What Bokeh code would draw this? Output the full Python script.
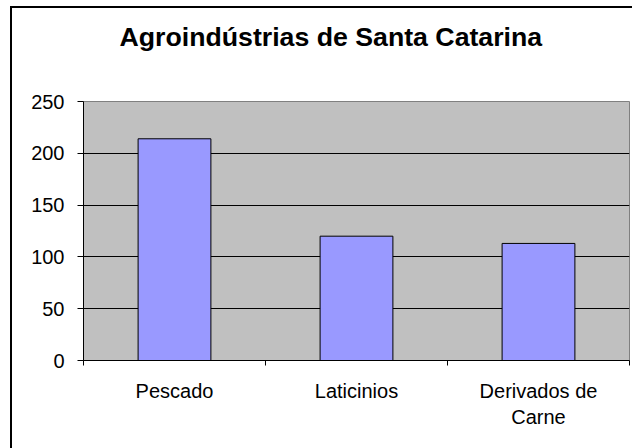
from bokeh.plotting import figure
from bokeh.models import Range1d, FixedTicker, ColumnDataSource, Title
from bokeh.embed import file_html
from bokeh.resources import INLINE

# ---- data ----
title_text = "Agroindústrias de Santa Catarina"
categories = ["Pescado", "Laticinios", "Derivados de\nCarne"]
values = [214, 120, 113]
y_ticks = [0, 50, 100, 150, 200, 250]

xs = [i + 0.5 for i in range(len(categories))]
bounds = [float(i) for i in range(len(categories) + 1)]

src = ColumnDataSource(dict(x=xs, top=values, cat=categories))

W, H = 634, 445
p = figure(width=W, height=H, output_backend="svg", toolbar_location=None,
           x_range=Range1d(0, len(categories)), y_range=Range1d(y_ticks[0], y_ticks[-1]),
           min_border_left=71, min_border_right=17, min_border_top=93, min_border_bottom=93)

p.styles = {"border-left": "2px solid black", "border-top": "2px solid black",
            "margin-left": "10px", "margin-top": "6px"}

p.title.text = title_text
p.title.align = "left"
p.title.offset = 36
p.title.text_font = "Liberation Sans"
p.title.text_font_style = "bold"
p.title.text_font_size = "26.7px"
p.title.text_color = "black"
p.title.standoff = 10

# blank spacer between title and plot area
p.add_layout(Title(text=" ", text_font_size="1px", standoff=42), "above")

p.background_fill_color = "#C0C0C0"
p.border_fill_color = "white"
p.outline_line_color = "#808080"
p.outline_line_width = 1

p.vbar(x="x", top="top", bottom=0, width=0.4, source=src,
       fill_color="#9999FF", line_color="black", line_width=1)

# y axis
p.yaxis.ticker = FixedTicker(ticks=y_ticks)
p.yaxis.major_tick_out = 6
p.yaxis.major_tick_in = 0
p.yaxis.minor_tick_line_color = None
p.yaxis.major_label_standoff = 13
p.yaxis.major_label_text_font = "Liberation Sans"
p.yaxis.major_label_text_font_size = "20px"
p.yaxis.major_label_text_color = "black"
p.yaxis.axis_line_color = "black"
p.yaxis.major_tick_line_color = "black"

# x axis: labels at category centres, ticks at category boundaries
p.xaxis.ticker = FixedTicker(ticks=xs, minor_ticks=bounds)
p.xaxis.major_label_overrides = {x: c for x, c in zip(xs, categories)}
p.xaxis.major_tick_line_color = None
p.xaxis.major_tick_out = 0
p.xaxis.major_tick_in = 0
p.xaxis.minor_tick_line_color = "black"
p.xaxis.minor_tick_out = 5
p.xaxis.minor_tick_in = 0
p.xaxis.major_label_standoff = 14
p.xaxis.major_label_text_font = "Liberation Sans"
p.xaxis.major_label_text_font_size = "20px"
p.xaxis.major_label_text_color = "black"
p.xaxis.axis_line_color = "black"

# grid
p.xgrid.grid_line_color = None
p.ygrid.ticker = FixedTicker(ticks=y_ticks[1:-1])
p.ygrid.grid_line_color = "black"
p.ygrid.grid_line_alpha = 1.0
p.ygrid.grid_line_width = 1

open("out.html", "w").write(file_html(p, INLINE))
